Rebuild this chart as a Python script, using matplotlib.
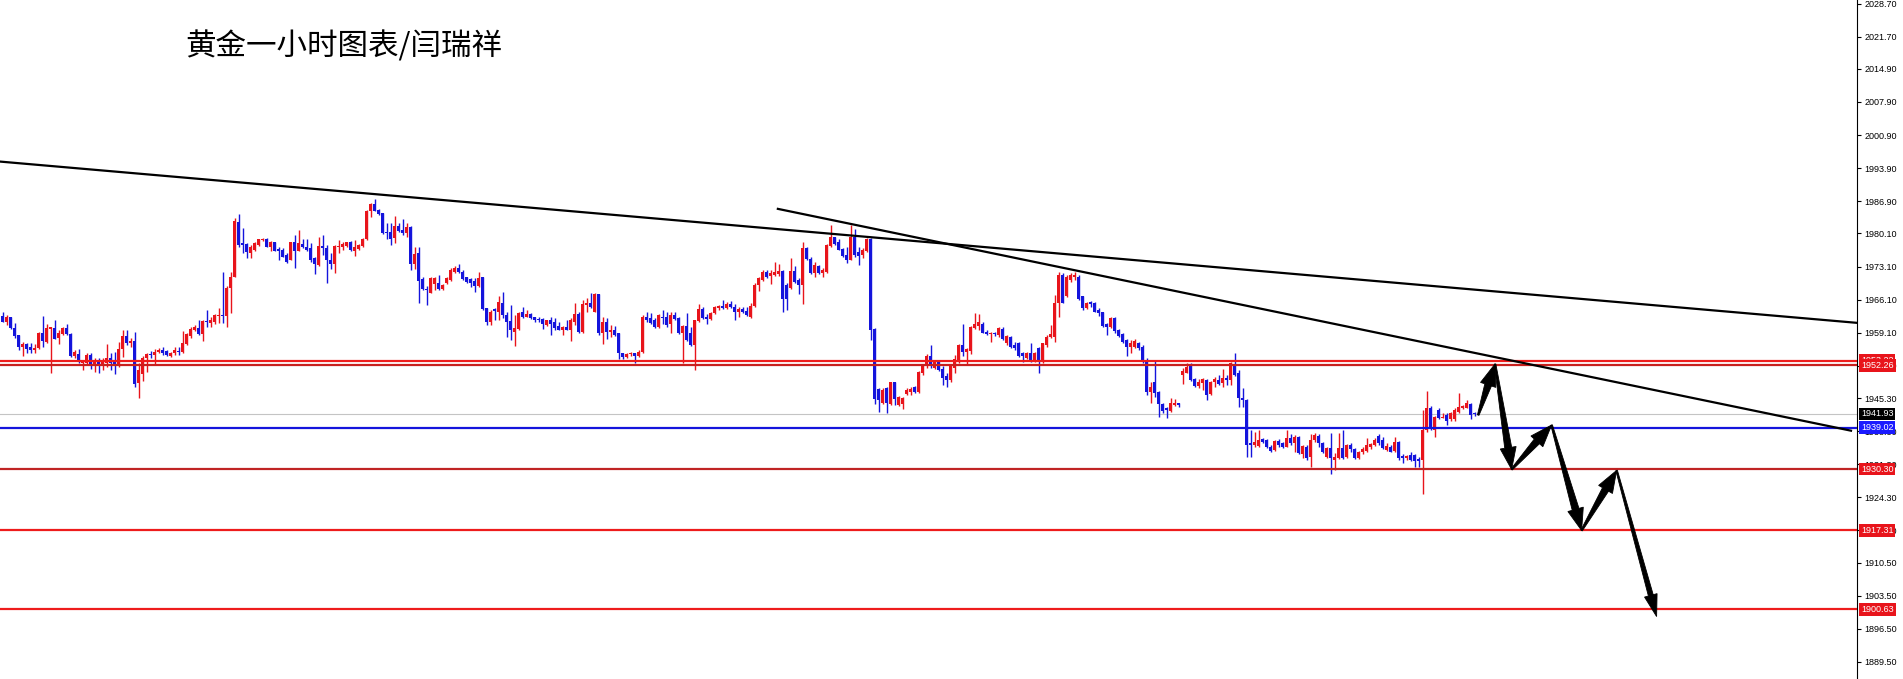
import numpy as np
import matplotlib.pyplot as plt
from matplotlib.patches import Polygon
from matplotlib.transforms import blended_transform_factory

title = "黄金一小时图表/闫瑞祥"

# hourly gold candles
opens = [
    1962.7, 1961.3, 1962.4, 1960.1, 1958.6, 1956.2, 1956.8, 1956.0, 1955.5, 1955.8,
    1959.0, 1957.2, 1959.9, 1960.1, 1957.9, 1958.9, 1960.2, 1958.9, 1954.1, 1954.7,
    1952.7, 1952.7, 1954.4, 1952.3, 1953.4, 1952.3, 1952.7, 1953.7, 1953.0, 1952.3,
    1955.6, 1958.4, 1956.9, 1957.4, 1948.4, 1950.4, 1953.7, 1954.6, 1954.3, 1955.0,
    1955.5, 1955.2, 1954.2, 1954.9, 1955.3, 1955.1, 1956.8, 1958.4, 1959.7, 1960.1,
    1958.9, 1961.6, 1961.1, 1961.3, 1962.7, 1962.9, 1962.7, 1968.5, 1970.9, 1982.6,
    1978.0, 1977.9, 1975.9, 1976.6, 1977.7, 1978.7, 1978.9, 1977.3, 1978.4, 1976.9,
    1976.6, 1975.6, 1974.5, 1978.2, 1976.3, 1977.8, 1977.3, 1977.0, 1974.9, 1973.4,
    1977.5, 1977.0, 1974.5, 1973.7, 1977.2, 1977.2, 1977.5, 1978.4, 1976.3, 1976.9,
    1977.5, 1978.9, 1984.9, 1986.3, 1985.1, 1984.4, 1980.5, 1980.5, 1979.1, 1981.6,
    1980.9, 1980.1, 1981.4, 1973.7, 1975.9, 1970.4, 1968.3, 1967.6, 1969.4, 1969.6,
    1968.3, 1969.7, 1970.3, 1972.0, 1972.7, 1972.0, 1970.8, 1970.4, 1970.1, 1968.9,
    1970.8, 1964.3, 1961.3, 1964.1, 1963.6, 1965.5, 1962.9, 1961.5, 1959.3, 1959.8,
    1963.4, 1962.5, 1963.1, 1962.4, 1962.0, 1962.0, 1960.8, 1961.7, 1961.3, 1960.6,
    1959.7, 1960.4, 1959.7, 1961.3, 1963.1, 1959.3, 1965.0, 1965.5, 1963.6, 1967.3,
    1959.1, 1961.3, 1959.3, 1959.7, 1959.0, 1954.8, 1953.9, 1954.6, 1954.8, 1954.1,
    1955.1, 1962.5, 1962.2, 1961.8, 1960.3, 1962.5, 1962.5, 1961.0, 1962.9, 1962.2,
    1959.0, 1960.6, 1959.1, 1956.5, 1961.5, 1964.1, 1962.4, 1962.0, 1963.2, 1964.3,
    1964.8, 1964.3, 1965.2, 1964.6, 1963.6, 1964.1, 1963.8, 1962.4, 1964.8, 1969.2,
    1970.3, 1972.0, 1971.1, 1971.3, 1971.5, 1972.2, 1969.2, 1968.5, 1972.2, 1970.3,
    1969.2, 1977.0, 1974.6, 1971.7, 1973.2, 1971.8, 1972.0, 1977.5, 1979.3, 1978.4,
    1976.8, 1975.6, 1974.5, 1979.4, 1976.1, 1975.6, 1976.3, 1978.9, 1959.8, 1947.2,
    1944.2, 1947.4, 1944.1, 1948.6, 1943.8, 1944.1, 1946.2, 1946.5, 1947.6, 1946.5,
    1950.5, 1952.0, 1954.1, 1951.6, 1953.0, 1951.4, 1949.9, 1949.1, 1951.6, 1953.0,
    1956.5, 1955.1, 1955.3, 1960.1, 1960.5, 1961.0, 1959.3, 1958.9, 1959.0, 1958.6,
    1959.8, 1956.9, 1958.3, 1956.5, 1957.0, 1954.9, 1953.7, 1954.8, 1953.4, 1955.8,
    1953.0, 1956.5, 1958.2, 1958.3, 1965.3, 1971.3, 1966.8, 1970.3, 1970.8, 1971.0,
    1966.8, 1964.3, 1965.7, 1965.5, 1963.9, 1963.4, 1961.0, 1960.4, 1962.2, 1959.6,
    1958.9, 1957.6, 1956.2, 1956.2, 1956.9, 1956.2, 1953.4, 1946.5, 1948.8, 1946.5,
    1944.1, 1943.1, 1942.6, 1943.8, 1944.2, 1950.2, 1950.7, 1952.3, 1949.3, 1947.9,
    1948.4, 1949.1, 1946.2, 1948.6, 1949.1, 1948.4, 1949.5, 1949.1, 1952.0, 1950.7,
    1945.3, 1944.9, 1935.7, 1935.4, 1935.2, 1936.6, 1936.4, 1935.0, 1934.3, 1936.3,
    1935.7, 1935.0, 1936.8, 1935.7, 1937.0, 1933.5, 1935.0, 1932.8, 1936.4, 1937.3,
    1935.7, 1932.8, 1934.7, 1932.2, 1932.6, 1934.7, 1932.8, 1935.4, 1934.5, 1932.6,
    1933.8, 1934.2, 1934.9, 1935.4, 1937.3, 1936.4, 1934.3, 1935.0, 1934.2, 1936.1,
    1933.1, 1932.6, 1933.3, 1933.3, 1932.4, 1932.1, 1938.6, 1943.3, 1938.6, 1942.8,
    1941.0, 1941.7, 1940.8, 1940.8, 1942.4, 1943.1, 1943.3, 1944.1, 1942.2,
]
highs = [
    1963.4, 1962.9, 1962.5, 1961.1, 1958.6, 1957.2, 1957.0, 1957.0, 1956.8, 1959.2,
    1962.7, 1961.0, 1960.4, 1961.8, 1959.7, 1960.3, 1961.0, 1959.0, 1955.5, 1955.6,
    1953.4, 1954.8, 1954.8, 1953.7, 1953.7, 1953.7, 1956.8, 1954.9, 1955.1, 1957.2,
    1959.6, 1959.6, 1957.9, 1959.2, 1952.7, 1954.1, 1954.9, 1955.3, 1955.6, 1955.8,
    1956.0, 1955.4, 1955.1, 1956.2, 1956.2, 1959.4, 1959.0, 1960.4, 1960.8, 1961.7,
    1961.8, 1963.9, 1962.5, 1963.1, 1964.3, 1972.0, 1968.9, 1972.0, 1983.3, 1984.2,
    1981.2, 1978.0, 1977.7, 1978.4, 1979.0, 1979.1, 1979.1, 1978.5, 1978.4, 1977.2,
    1977.0, 1975.9, 1978.4, 1979.8, 1980.9, 1978.9, 1978.9, 1978.0, 1975.2, 1979.3,
    1979.8, 1977.7, 1975.9, 1977.7, 1978.7, 1978.2, 1978.4, 1978.6, 1978.7, 1977.8,
    1979.1, 1985.1, 1986.6, 1987.3, 1985.2, 1984.5, 1982.3, 1982.4, 1983.7, 1982.3,
    1983.1, 1982.3, 1981.6, 1977.2, 1977.2, 1971.0, 1969.0, 1971.0, 1970.8, 1971.3,
    1969.4, 1970.8, 1972.7, 1973.2, 1973.7, 1972.4, 1971.0, 1970.6, 1970.6, 1972.0,
    1971.0, 1964.3, 1963.9, 1964.3, 1966.8, 1967.8, 1963.4, 1965.0, 1962.9, 1963.6,
    1964.6, 1963.9, 1963.2, 1962.5, 1962.5, 1962.2, 1961.9, 1962.4, 1962.2, 1961.3,
    1960.6, 1961.8, 1962.2, 1965.3, 1963.6, 1966.0, 1966.4, 1967.6, 1967.5, 1967.3,
    1962.4, 1962.2, 1960.8, 1960.6, 1959.1, 1954.9, 1954.9, 1955.1, 1954.9, 1955.5,
    1962.9, 1963.4, 1963.2, 1962.2, 1963.0, 1963.9, 1963.4, 1963.4, 1963.4, 1962.5,
    1960.8, 1963.2, 1960.4, 1961.7, 1965.2, 1964.6, 1963.1, 1963.4, 1964.8, 1965.0,
    1966.0, 1965.7, 1965.9, 1965.2, 1964.6, 1964.6, 1964.5, 1965.3, 1969.6, 1971.0,
    1972.4, 1972.4, 1972.4, 1974.1, 1973.7, 1972.4, 1969.6, 1974.9, 1973.2, 1970.6,
    1978.2, 1977.3, 1975.1, 1974.1, 1973.4, 1972.7, 1977.9, 1981.9, 1979.4, 1978.9,
    1977.0, 1977.3, 1981.9, 1981.0, 1977.3, 1977.0, 1979.1, 1979.1, 1960.1, 1947.4,
    1947.4, 1947.6, 1948.8, 1948.8, 1945.7, 1945.6, 1947.4, 1947.6, 1947.9, 1951.1,
    1952.3, 1954.6, 1956.5, 1953.4, 1953.2, 1952.0, 1950.7, 1952.3, 1954.4, 1956.7,
    1961.0, 1955.8, 1960.5, 1963.2, 1963.1, 1961.3, 1959.6, 1959.3, 1959.3, 1960.4,
    1960.4, 1958.6, 1958.4, 1957.2, 1957.2, 1955.1, 1955.1, 1957.0, 1955.1, 1956.2,
    1957.0, 1958.6, 1960.8, 1967.1, 1972.0, 1971.7, 1971.3, 1971.8, 1972.0, 1971.3,
    1966.9, 1965.7, 1965.9, 1965.7, 1964.3, 1963.6, 1961.1, 1962.5, 1962.4, 1959.8,
    1959.0, 1957.7, 1957.6, 1957.7, 1957.2, 1956.5, 1953.7, 1948.8, 1953.4, 1946.7,
    1944.3, 1943.5, 1945.3, 1945.0, 1944.3, 1951.6, 1952.8, 1952.7, 1949.5, 1949.3,
    1949.5, 1949.3, 1949.0, 1949.8, 1950.2, 1951.4, 1950.2, 1953.0, 1954.8, 1951.2,
    1947.4, 1945.2, 1938.6, 1938.2, 1938.6, 1936.8, 1936.6, 1935.4, 1936.4, 1936.6,
    1936.1, 1938.6, 1937.8, 1937.5, 1937.3, 1935.4, 1935.4, 1937.8, 1938.0, 1937.7,
    1936.1, 1935.0, 1938.0, 1933.6, 1938.0, 1938.6, 1935.6, 1935.7, 1934.7, 1934.2,
    1934.9, 1936.8, 1935.9, 1936.8, 1937.7, 1937.0, 1935.9, 1935.4, 1937.1, 1936.3,
    1933.5, 1933.3, 1933.8, 1933.5, 1932.9, 1942.8, 1946.7, 1943.6, 1941.5, 1943.1,
    1942.1, 1942.1, 1942.4, 1943.1, 1946.4, 1943.8, 1944.9, 1944.2, 1942.4,
]
lows = [
    1961.3, 1960.8, 1960.0, 1957.9, 1955.5, 1954.1, 1954.8, 1954.8, 1954.9, 1955.6,
    1956.2, 1957.0, 1950.7, 1957.7, 1956.8, 1958.6, 1958.6, 1954.0, 1953.7, 1952.7,
    1951.2, 1952.3, 1951.4, 1950.9, 1950.7, 1951.2, 1951.9, 1951.2, 1950.3, 1951.9,
    1953.9, 1956.5, 1956.2, 1947.7, 1945.3, 1949.0, 1950.9, 1953.7, 1952.3, 1954.8,
    1954.4, 1954.2, 1954.0, 1954.4, 1954.4, 1954.8, 1956.5, 1958.1, 1959.4, 1958.6,
    1957.4, 1960.4, 1960.3, 1961.0, 1961.1, 1961.1, 1960.4, 1963.2, 1970.8, 1977.3,
    1975.9, 1974.9, 1974.9, 1976.3, 1977.5, 1978.5, 1977.2, 1976.3, 1976.3, 1974.4,
    1975.2, 1973.9, 1974.4, 1972.7, 1976.3, 1977.0, 1976.3, 1974.1, 1971.5, 1973.2,
    1975.6, 1969.6, 1972.5, 1971.8, 1975.9, 1976.6, 1977.3, 1976.4, 1975.4, 1976.6,
    1977.3, 1978.7, 1983.5, 1984.9, 1984.0, 1980.0, 1978.9, 1977.7, 1978.0, 1980.5,
    1979.8, 1979.3, 1972.4, 1972.5, 1965.5, 1968.2, 1965.0, 1967.5, 1968.2, 1968.2,
    1968.2, 1969.5, 1970.1, 1971.7, 1971.8, 1970.3, 1969.6, 1968.7, 1967.8, 1968.7,
    1963.9, 1960.8, 1960.8, 1961.8, 1961.8, 1962.2, 1958.3, 1957.6, 1956.3, 1959.7,
    1962.2, 1962.4, 1962.0, 1961.3, 1961.3, 1959.8, 1960.6, 1958.6, 1959.6, 1959.6,
    1958.6, 1959.6, 1957.4, 1960.8, 1959.1, 1959.1, 1963.6, 1964.3, 1963.6, 1958.6,
    1956.7, 1957.7, 1958.2, 1958.4, 1953.5, 1953.5, 1953.7, 1954.2, 1952.8, 1953.9,
    1954.9, 1961.3, 1961.0, 1960.1, 1960.1, 1961.0, 1960.4, 1959.0, 1961.7, 1958.9,
    1952.7, 1957.4, 1956.3, 1951.2, 1961.3, 1962.0, 1961.0, 1961.8, 1963.1, 1963.9,
    1964.1, 1964.1, 1964.3, 1961.7, 1962.5, 1963.2, 1962.7, 1962.2, 1964.6, 1968.0,
    1970.1, 1970.6, 1969.4, 1971.1, 1971.1, 1963.6, 1963.9, 1968.3, 1969.7, 1967.3,
    1965.2, 1974.5, 1971.5, 1970.8, 1971.5, 1970.8, 1971.8, 1977.3, 1977.7, 1976.5,
    1975.1, 1973.8, 1974.4, 1975.2, 1973.4, 1974.9, 1976.1, 1957.6, 1944.1, 1942.4,
    1944.1, 1942.2, 1943.8, 1943.8, 1943.6, 1942.9, 1946.0, 1946.0, 1946.3, 1946.3,
    1950.2, 1951.6, 1951.6, 1951.4, 1951.1, 1948.1, 1947.6, 1948.8, 1950.7, 1952.7,
    1954.1, 1952.3, 1954.6, 1959.8, 1959.7, 1959.0, 1958.6, 1957.2, 1958.4, 1958.3,
    1957.6, 1956.5, 1955.8, 1955.5, 1953.9, 1953.0, 1953.5, 1953.0, 1953.0, 1950.7,
    1952.8, 1956.2, 1957.9, 1957.2, 1962.5, 1965.3, 1966.6, 1969.9, 1970.3, 1966.0,
    1963.9, 1964.1, 1964.6, 1963.4, 1962.7, 1960.4, 1958.6, 1960.1, 1959.0, 1958.2,
    1957.0, 1954.1, 1954.8, 1955.8, 1955.5, 1952.8, 1946.0, 1944.3, 1945.6, 1941.4,
    1942.1, 1941.0, 1942.4, 1943.6, 1943.5, 1948.3, 1950.5, 1949.0, 1947.6, 1947.4,
    1946.9, 1944.9, 1946.0, 1947.7, 1948.1, 1947.7, 1948.1, 1948.1, 1950.0, 1943.5,
    1943.4, 1932.9, 1932.8, 1934.9, 1934.9, 1935.7, 1934.7, 1934.0, 1934.2, 1935.0,
    1934.7, 1934.9, 1935.4, 1933.8, 1933.5, 1932.6, 1932.2, 1930.7, 1936.1, 1935.0,
    1933.6, 1932.6, 1929.3, 1930.1, 1932.4, 1932.4, 1932.6, 1934.0, 1932.4, 1932.4,
    1933.5, 1934.0, 1934.6, 1935.2, 1935.4, 1934.5, 1934.2, 1933.8, 1934.0, 1932.2,
    1931.6, 1932.2, 1931.9, 1930.8, 1930.8, 1925.0, 1938.2, 1938.6, 1937.1, 1940.8,
    1941.0, 1939.6, 1940.5, 1940.5, 1942.1, 1942.9, 1943.1, 1940.8, 1941.5,
]
closes = [
    1961.3, 1962.5, 1960.1, 1958.4, 1956.2, 1956.8, 1955.6, 1955.5, 1955.8, 1959.0,
    1957.4, 1960.1, 1960.3, 1957.7, 1959.0, 1960.1, 1958.9, 1954.1, 1955.1, 1953.0,
    1953.0, 1954.4, 1952.3, 1953.4, 1952.0, 1953.0, 1953.7, 1952.7, 1952.3, 1955.6,
    1958.4, 1957.0, 1957.4, 1948.3, 1951.2, 1953.7, 1954.6, 1954.3, 1955.1, 1955.5,
    1954.9, 1954.4, 1954.9, 1955.5, 1955.0, 1956.9, 1958.9, 1959.9, 1960.4, 1958.9,
    1961.5, 1961.3, 1961.8, 1962.9, 1962.9, 1962.7, 1968.5, 1971.0, 1982.8, 1977.7,
    1977.7, 1976.1, 1977.3, 1978.0, 1978.9, 1978.9, 1977.3, 1978.4, 1976.4, 1976.4,
    1975.2, 1974.1, 1978.2, 1976.3, 1978.0, 1977.2, 1976.6, 1974.5, 1973.7, 1977.5,
    1977.0, 1974.4, 1973.7, 1977.5, 1977.5, 1977.8, 1978.4, 1976.6, 1977.3, 1977.7,
    1978.9, 1984.9, 1986.3, 1984.9, 1984.2, 1980.3, 1980.1, 1978.9, 1981.6, 1980.7,
    1980.1, 1981.4, 1973.7, 1975.8, 1970.1, 1968.3, 1968.2, 1970.6, 1970.6, 1968.3,
    1969.2, 1970.6, 1972.4, 1972.9, 1972.0, 1970.4, 1969.9, 1969.7, 1968.9, 1970.6,
    1964.1, 1961.3, 1963.6, 1963.8, 1965.7, 1962.9, 1961.3, 1959.6, 1960.1, 1963.2,
    1962.4, 1963.1, 1962.2, 1961.7, 1961.7, 1961.0, 1961.7, 1961.0, 1960.1, 1959.7,
    1960.4, 1959.7, 1961.8, 1963.1, 1959.3, 1965.2, 1965.3, 1964.5, 1967.3, 1959.1,
    1961.3, 1959.3, 1959.7, 1958.6, 1954.8, 1953.9, 1954.6, 1954.9, 1954.1, 1955.1,
    1962.5, 1961.8, 1961.1, 1960.3, 1962.9, 1962.2, 1960.8, 1962.9, 1962.0, 1959.0,
    1960.6, 1957.6, 1956.5, 1961.7, 1964.1, 1962.2, 1962.0, 1963.2, 1964.5, 1964.8,
    1964.3, 1965.2, 1964.5, 1963.6, 1964.1, 1963.6, 1962.9, 1964.8, 1969.2, 1970.6,
    1972.0, 1970.8, 1971.7, 1972.0, 1972.2, 1966.2, 1966.2, 1972.2, 1969.9, 1969.2,
    1977.0, 1974.6, 1971.8, 1973.4, 1971.8, 1972.4, 1977.7, 1979.3, 1977.9, 1976.6,
    1975.3, 1974.4, 1979.4, 1975.6, 1975.3, 1976.6, 1978.9, 1959.7, 1945.0, 1944.9,
    1946.9, 1944.2, 1948.6, 1945.0, 1945.6, 1945.3, 1947.0, 1947.2, 1946.5, 1950.9,
    1952.1, 1954.1, 1952.0, 1953.0, 1951.2, 1949.5, 1949.1, 1952.0, 1953.5, 1956.5,
    1955.1, 1955.6, 1960.3, 1961.0, 1961.3, 1959.1, 1958.9, 1959.1, 1958.9, 1960.1,
    1957.7, 1958.4, 1956.2, 1955.8, 1954.1, 1954.1, 1954.9, 1953.4, 1954.8, 1953.0,
    1956.9, 1958.3, 1958.9, 1965.5, 1971.3, 1965.5, 1971.0, 1971.3, 1971.3, 1966.2,
    1964.3, 1965.5, 1965.2, 1963.6, 1963.2, 1960.6, 1960.4, 1962.2, 1959.4, 1958.4,
    1957.2, 1956.0, 1956.9, 1957.4, 1955.8, 1953.0, 1946.5, 1947.7, 1946.3, 1944.1,
    1942.6, 1942.8, 1944.2, 1944.2, 1943.8, 1951.1, 1951.8, 1949.1, 1947.9, 1948.8,
    1949.3, 1946.0, 1948.8, 1949.3, 1948.3, 1949.5, 1949.1, 1952.7, 1950.2, 1945.3,
    1944.9, 1935.4, 1935.4, 1936.1, 1936.4, 1936.1, 1934.9, 1934.2, 1936.3, 1935.4,
    1934.9, 1936.8, 1935.7, 1937.0, 1933.6, 1935.2, 1932.6, 1936.4, 1937.5, 1935.7,
    1934.0, 1934.7, 1932.6, 1932.8, 1934.7, 1932.6, 1935.4, 1934.5, 1932.6, 1934.0,
    1934.5, 1935.4, 1935.6, 1936.4, 1935.7, 1934.7, 1935.2, 1934.0, 1936.1, 1932.6,
    1932.6, 1933.1, 1932.1, 1931.9, 1931.9, 1938.6, 1943.1, 1938.7, 1941.2, 1941.0,
    1941.2, 1940.5, 1942.1, 1942.8, 1943.5, 1943.6, 1944.2, 1941.7, 1941.9,
]

# price scale labels on the right
tick_values = [2028.70, 2021.70, 2014.90, 2007.90, 2000.90, 1993.90, 1986.90,
               1980.10, 1973.10, 1966.10, 1959.10, 1952.10, 1945.30, 1938.30,
               1931.30, 1924.30, 1917.30, 1910.50, 1903.50, 1896.50, 1889.50]

# horizontal levels
levels = [1953.22, 1952.26, 1930.30, 1917.31, 1900.63]
level_colors = ['#ee1c1c', '#c8201e', '#c02424', '#ee1c1c', '#ee1c1c']
blue_level = 1939.02
bid = 1941.93

# trendlines (bar index, price)
trend1_x, trend1_y = [-0.7, 463.6], [1995.3, 1961.2]
trend2_x, trend2_y = [193.8, 462.1], [1985.3, 1938.4]

# projected path drawn with arrows
path_x = [368.9, 373.1, 377.25, 387.25, 394.75, 403.5, 413.5]
path_y = [1941.7, 1952.5, 1930.2, 1939.6, 1917.3, 1930.0, 1899.1]

RED = '#e8141b'
BLUE = '#1414dc'

W, H = 1903, 679
fig = plt.figure(figsize=(W / 100, H / 100), dpi=100)
ax = fig.add_axes([0, 0, 1857 / W, 1])
ax.set_xlim(-0.675, 463.6)
ax.set_ylim(1885.9, 2029.46)

for s in ['top', 'left', 'bottom']:
    ax.spines[s].set_visible(False)
ax.spines['right'].set_linewidth(0.8)
ax.set_xticks([])
ax.yaxis.tick_right()
ax.set_yticks(tick_values)
ax.set_yticklabels([f'{v:.2f}' for v in tick_values],
                   fontfamily='Liberation Sans', fontsize=6.5)
ax.tick_params(axis='y', length=3, width=0.8, pad=2.5)

# candles
o = np.array(opens)
h = np.array(highs)
l = np.array(lows)
c = np.array(closes)
idx = np.arange(len(o))
cols = np.where(c >= o, RED, BLUE)
ax.vlines(idx, l, h, colors=cols, lw=1.0, zorder=3)
body = np.maximum(np.abs(c - o), 0.22)
ax.bar(idx, body, bottom=np.minimum(o, c), width=0.75, color=cols, lw=0, zorder=3)

# levels
ax.axhline(bid, color='#c4c4c4', lw=0.8, zorder=2)
ax.axhline(blue_level, color=BLUE, lw=1.6, zorder=4)
for lv, col in zip(levels, level_colors):
    ax.axhline(lv, color=col, lw=1.6, zorder=4)

ax.plot(trend1_x, trend1_y, color='black', lw=1.6, zorder=5)
ax.plot(trend2_x, trend2_y, color='black', lw=1.6, zorder=5)


def draw_arrow(p0, p1, tail=7.0, head_w=16.0, head_l=22.0):
    a = ax.transData.transform(p0)
    b = ax.transData.transform(p1)
    d = b - a
    u = d / np.hypot(*d)
    n = np.array([-u[1], u[0]])
    base = b - u * head_l
    pts = [a + n * 0.8, base + n * tail / 2, base + n * head_w / 2, b,
           base - n * head_w / 2, base - n * tail / 2, a - n * 0.8]
    pts = ax.transData.inverted().transform(np.array(pts))
    ax.add_patch(Polygon(pts, closed=True, fc='black', ec='black', lw=0.6, zorder=6))


for k in range(len(path_x) - 1):
    thin = k == len(path_x) - 2
    draw_arrow((path_x[k], path_y[k]), (path_x[k + 1], path_y[k + 1]),
               tail=5.0 if thin else 7.0, head_w=13.0 if thin else 16.0)

# price tags on the scale
tr = blended_transform_factory(ax.transAxes, ax.transData)
tags = [(levels[0], RED), (levels[1], RED), (bid, 'black'), (blue_level, '#1a1aff'),
        (levels[2], RED), (levels[3], RED), (levels[4], RED)]
for val, col in tags:
    ax.text(1861 / 1857, val, f'{val:.2f}', transform=tr, ha='left', va='center',
            fontfamily='Liberation Sans', fontsize=6.5, color='white', zorder=10,
            clip_on=False,
            bbox=dict(boxstyle='square,pad=0.22', fc=col, ec='none'))

fig.text(185 / W, 1 - 47 / H, title, fontfamily=['Noto Sans CJK SC', 'DejaVu Sans'],
         fontsize=22, va='center', ha='left', color='black')

fig.savefig('out.png', dpi=100, facecolor='white')
